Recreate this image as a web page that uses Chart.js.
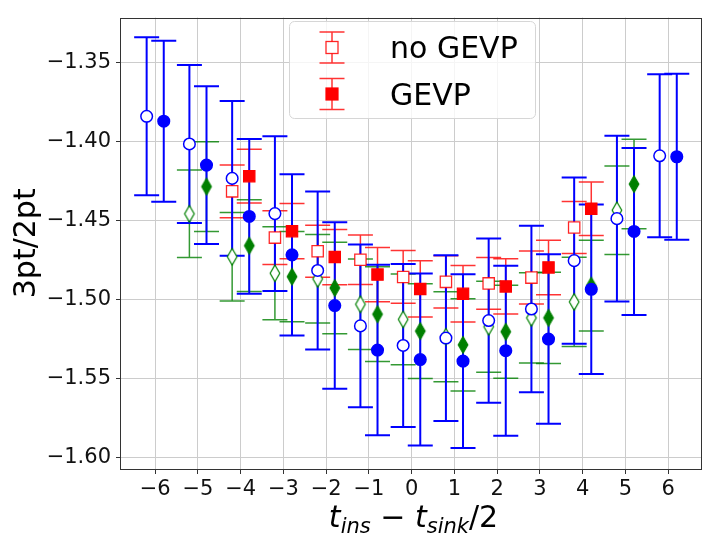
<!DOCTYPE html>
<html>
<head>
<meta charset="utf-8">
<script src="https://cdn.jsdelivr.net/npm/chart.js@4.4.0/dist/chart.umd.min.js"></script>
<style>
  html, body { margin: 0; padding: 0; background: #ffffff; }
  #c { display: block; }
</style>
</head>
<body>
<canvas id="c" width="705" height="541" style="width:705px;height:541px"></canvas>
<script>
// Insertion times (relative to t_sink/2) for each group of measurements
const tBlue  = [-6, -5, -4, -3, -2, -1, 0, 1, 2, 3, 4, 5, 6];
const tGreen = [-5, -4, -3, -2, -1, 0, 1, 2, 3, 4, 5];
const tRed   = [-4, -3, -2, -1, 0, 1, 2, 3, 4];

// Ratio 3pt/2pt and its uncertainty
const blueOpenVal    = [-1.384, -1.4015, -1.4233, -1.4456, -1.4816, -1.5167, -1.5291, -1.5244, -1.5133, -1.5060, -1.4754, -1.4488, -1.4090];
const blueOpenErr    = [0.050, 0.050, 0.049, 0.049, 0.050, 0.0515, 0.0516, 0.0525, 0.052, 0.0527, 0.0526, 0.0525, 0.0516];
const blueFilledVal  = [-1.3871, -1.4149, -1.4474, -1.4717, -1.5038, -1.5320, -1.5380, -1.5390, -1.5324, -1.5250, -1.4935, -1.4569, -1.4096];
const blueFilledErr  = [0.051, 0.050, 0.049, 0.051, 0.0527, 0.054, 0.0545, 0.055, 0.0538, 0.0537, 0.0536, 0.0529, 0.0525];

const greenOpenVal   = [-1.4457, -1.4729, -1.4834, -1.4869, -1.5030, -1.5126, -1.5235, -1.5172, -1.5116, -1.5015, -1.4435];
const greenOpenErr   = [0.0277, 0.028, 0.0294, 0.028, 0.0286, 0.0287, 0.0285, 0.0288, 0.0286, 0.0282, 0.028];
const greenFilledVal = [-1.4285, -1.4659, -1.4855, -1.4927, -1.5093, -1.5200, -1.5287, -1.5204, -1.5116, -1.4912, -1.4269];
const greenFilledErr = [0.0284, 0.029, 0.0285, 0.029, 0.030, 0.030, 0.0292, 0.0294, 0.0289, 0.0288, 0.0283];

const redOpenVal     = [-1.4315, -1.4608, -1.4694, -1.4748, -1.4857, -1.4888, -1.4898, -1.4861, -1.4544];
const redOpenErr     = [0.0167, 0.017, 0.0165, 0.0157, 0.0167, 0.0165, 0.0164, 0.0168, 0.0164];
const redFilledVal   = [-1.4219, -1.4567, -1.4731, -1.4842, -1.4933, -1.4964, -1.4917, -1.4797, -1.4425];
const redFilledErr   = [0.017, 0.0175, 0.0175, 0.0172, 0.0178, 0.0179, 0.0175, 0.0172, 0.0169];

// Axis ticks and their labels
const xTicks = [-6, -5, -4, -3, -2, -1, 0, 1, 2, 3, 4, 5, 6];
const xTickLabels = ['\u22126', '\u22125', '\u22124', '\u22123', '\u22122', '\u22121', '0', '1', '2', '3', '4', '5', '6'];
const yTicks = [-1.60, -1.55, -1.50, -1.45, -1.40, -1.35];
const yTickLabels = ['\u22121.60', '\u22121.55', '\u22121.50', '\u22121.45', '\u22121.40', '\u22121.35'];

const legendLabels = ['no GEVP', 'GEVP'];
const yTitle = '3pt/2pt';

// open symbols sit left of the integer time, filled ones right of it
const SHIFT = 0.2;

const BLUE = '#0000ff', GREEN = '#008000', RED = '#ff0000';
const FONT = '"DejaVu Sans", "Liberation Sans", sans-serif';

function points(ts, vals, dx) {
  return ts.map((t, i) => ({ x: t + dx, y: vals[i] }));
}

// thin diamond symbol
function diamondSymbol(fill, stroke, lw) {
  const w = 9.6, h = 16.6;
  const c = document.createElement('canvas');
  c.width = 14; c.height = 22;
  const g = c.getContext('2d');
  const cx = c.width / 2, cy = c.height / 2;
  g.beginPath();
  g.moveTo(cx, cy - h / 2);
  g.lineTo(cx + w / 2, cy);
  g.lineTo(cx, cy + h / 2);
  g.lineTo(cx - w / 2, cy);
  g.closePath();
  g.fillStyle = fill;
  g.fill();
  g.lineWidth = lw;
  g.strokeStyle = stroke;
  g.stroke();
  return c;
}

const greenOpenSym = diamondSymbol('#ffffff', GREEN, 1.2);
const greenFilledSym = diamondSymbol(GREEN, GREEN, 1.2);

const datasets = [
  { label: 'blue filled', data: points(tBlue, blueFilledVal, SHIFT), yErr: blueFilledErr,
    pointStyle: 'circle', pointRadius: 5.8, backgroundColor: BLUE, borderColor: BLUE, borderWidth: 1.5,
    errColor: BLUE, errWidth: 2 },
  { label: 'blue open', data: points(tBlue, blueOpenVal, -SHIFT), yErr: blueOpenErr,
    pointStyle: 'circle', pointRadius: 5.8, backgroundColor: '#ffffff', borderColor: BLUE, borderWidth: 1.5,
    errColor: BLUE, errWidth: 2 },
  { label: legendLabels[1], data: points(tRed, redFilledVal, SHIFT), yErr: redFilledErr,
    pointStyle: 'rect', pointRadius: 8, backgroundColor: RED, borderColor: RED, borderWidth: 1.2,
    errColor: 'rgba(255,0,0,0.8)', errWidth: 1.5 },
  { label: legendLabels[0], data: points(tRed, redOpenVal, -SHIFT), yErr: redOpenErr,
    pointStyle: 'rect', pointRadius: 8, backgroundColor: '#ffffff', borderColor: 'rgba(255,0,0,0.85)', borderWidth: 1.3,
    errColor: 'rgba(255,0,0,0.8)', errWidth: 1.5 },
  { label: 'green filled', data: points(tGreen, greenFilledVal, SHIFT), yErr: greenFilledErr,
    pointStyle: greenFilledSym, pointRadius: 6, backgroundColor: GREEN, borderColor: GREEN, borderWidth: 0,
    errColor: 'rgba(0,128,0,0.8)', errWidth: 1.5 },
  { label: 'green open', data: points(tGreen, greenOpenVal, -SHIFT), yErr: greenOpenErr,
    pointStyle: greenOpenSym, pointRadius: 6, backgroundColor: '#ffffff', borderColor: GREEN, borderWidth: 0,
    errColor: 'rgba(0,128,0,0.8)', errWidth: 1.5 },
];
datasets.forEach(d => { d.showLine = false; d.pointHoverRadius = d.pointRadius; });

const CAP = 12.5;

// vertical error bars with caps, all underneath the symbols
const errorBars = {
  id: 'errorBars',
  beforeDatasetsDraw(chart) {
    const { ctx, scales: { x, y } } = chart;
    ctx.save();
    for (let k = chart.data.datasets.length - 1; k >= 0; k--) {
      const ds = chart.data.datasets[k];
      ctx.strokeStyle = ds.errColor;
      ctx.lineWidth = ds.errWidth;
      ctx.beginPath();
      ds.data.forEach((p, i) => {
        const e = ds.yErr[i];
        const px = x.getPixelForValue(p.x);
        const top = y.getPixelForValue(p.y + e);
        const bot = y.getPixelForValue(p.y - e);
        ctx.moveTo(px, top); ctx.lineTo(px, bot);
        ctx.moveTo(px - CAP, top); ctx.lineTo(px + CAP, top);
        ctx.moveTo(px - CAP, bot); ctx.lineTo(px + CAP, bot);
      });
      ctx.stroke();
    }
    ctx.restore();
  }
};

// frame, axis titles and legend box
const decorations = {
  id: 'decorations',
  afterDraw(chart) {
    const { ctx, chartArea: a } = chart;
    ctx.save();
    ctx.strokeStyle = '#333333';
    ctx.lineWidth = 1;
    ctx.strokeRect(Math.round(a.left) - 0.5, Math.round(a.top) + 0.5, Math.round(a.right - a.left), Math.round(a.bottom - a.top));

    // y title
    ctx.fillStyle = '#000000';
    ctx.font = '30px ' + FONT;
    ctx.save();
    ctx.translate(35, (a.top + a.bottom) / 2);
    ctx.rotate(-Math.PI / 2);
    ctx.textAlign = 'center';
    ctx.textBaseline = 'alphabetic';
    ctx.fillText(yTitle, 0, 0);
    ctx.restore();

    // x title: t_ins − t_sink/2
    const parts = [
      { s: 't', f: 'italic 30px ' + FONT, dy: 0 },
      { s: 'ins', f: 'italic 21px ' + FONT, dy: 6 },
      { s: ' \u2212 ', f: '30px ' + FONT, dy: 0 },
      { s: 't', f: 'italic 30px ' + FONT, dy: 0 },
      { s: 'sink', f: 'italic 21px ' + FONT, dy: 6 },
      { s: '/2', f: '30px ' + FONT, dy: 0 },
    ];
    let total = 0;
    parts.forEach(p => { ctx.font = p.f; p.w = ctx.measureText(p.s).width; total += p.w; });
    let cx = (a.left + a.right) / 2 + 2 - total / 2;
    const base = 527;
    ctx.textAlign = 'left';
    ctx.textBaseline = 'alphabetic';
    parts.forEach(p => { ctx.font = p.f; ctx.fillText(p.s, cx, base + p.dy); cx += p.w; });

    // legend
    const bx = 289.5, by = 21.5, bw = 246, bh = 97, r = 5;
    ctx.beginPath();
    ctx.moveTo(bx + r, by);
    ctx.arcTo(bx + bw, by, bx + bw, by + bh, r);
    ctx.arcTo(bx + bw, by + bh, bx, by + bh, r);
    ctx.arcTo(bx, by + bh, bx, by, r);
    ctx.arcTo(bx, by, bx + bw, by, r);
    ctx.closePath();
    ctx.fillStyle = 'rgba(255,255,255,0.8)';
    ctx.fill();
    ctx.strokeStyle = '#d6d6d6';
    ctx.lineWidth = 1;
    ctx.stroke();

    const entries = [
      { ds: chart.data.datasets[3], cy: 47.5, base: 57.5 },
      { ds: chart.data.datasets[2], cy: 94, base: 105 },
    ];
    const mx = 332, half = 15.5, side = 12;
    entries.forEach(en => {
      ctx.strokeStyle = en.ds.errColor;
      ctx.lineWidth = en.ds.errWidth;
      ctx.beginPath();
      ctx.moveTo(mx, en.cy - half); ctx.lineTo(mx, en.cy + half);
      ctx.moveTo(mx - CAP, en.cy - half); ctx.lineTo(mx + CAP, en.cy - half);
      ctx.moveTo(mx - CAP, en.cy + half); ctx.lineTo(mx + CAP, en.cy + half);
      ctx.stroke();
      ctx.fillStyle = en.ds.backgroundColor;
      ctx.fillRect(mx - side / 2, en.cy - side / 2, side, side);
      ctx.strokeStyle = en.ds.borderColor;
      ctx.lineWidth = en.ds.borderWidth;
      ctx.strokeRect(mx - side / 2, en.cy - side / 2, side, side);
      ctx.fillStyle = '#000000';
      ctx.font = '30px ' + FONT;
      ctx.textAlign = 'left';
      ctx.fillText(en.ds.label, 390, en.base);
    });
    ctx.restore();
  }
};

Chart.defaults.font.family = FONT;

new Chart(document.getElementById('c'), {
  type: 'scatter',
  data: { datasets },
  options: {
    responsive: false,
    animation: false,
    events: [],
    devicePixelRatio: 1,
    layout: { padding: { top: 6, right: 3, left: 0, bottom: 0 }, autoPadding: false },
    plugins: { legend: { display: false }, tooltip: { enabled: false } },
    scales: {
      x: {
        type: 'linear',
        min: -6.8, max: 6.79,
        afterBuildTicks: s => { s.ticks = xTicks.map(v => ({ value: v })); },
        afterFit: s => { s.height = 72; },
        ticks: {
          callback: (v, i) => xTickLabels[i],
          color: '#111111', font: { size: 21 }, padding: 3, maxRotation: 0, autoSkip: false,
        },
        grid: { color: '#cccccc', lineWidth: 1, tickLength: 5, tickColor: '#333333', drawTicks: true },
        border: { display: false },
      },
      y: {
        type: 'linear',
        min: -1.6073, max: -1.3215,
        afterBuildTicks: s => { s.ticks = yTicks.map(v => ({ value: v })); },
        afterFit: s => { s.width = 121; },
        ticks: {
          callback: (v, i) => yTickLabels[i],
          color: '#111111', font: { size: 21 }, padding: 5, autoSkip: false,
        },
        grid: { color: '#cccccc', lineWidth: 1, tickLength: 5, tickColor: '#333333', drawTicks: true },
        border: { display: false },
      },
    },
  },
  plugins: [errorBars, decorations],
});
</script>
</body>
</html>
